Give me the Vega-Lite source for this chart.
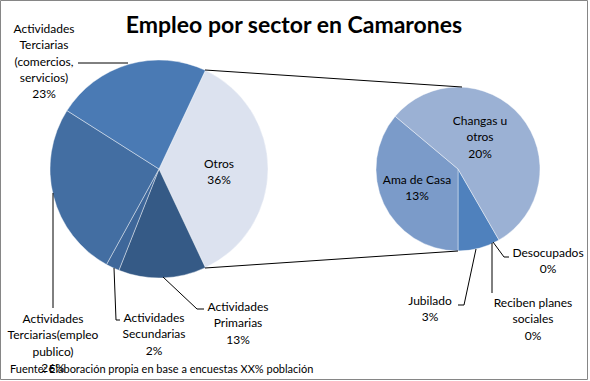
{
  "$schema": "https://vega.github.io/schema/vega-lite/v6.json",
  "width": 590,
  "height": 381,
  "padding": 0,
  "autosize": "none",
  "background": "#ffffff",
  "config": {"view": {"stroke": null}, "text": {"font": "Lato", "fontSize": 12, "color": "#000000", "lineBreak": "\n", "lineHeight": 16.3, "baseline": "middle", "align": "center"}, "rule": {"color": "#000000", "strokeWidth": 1}},
  "datasets": {
    "main": [
      {"sector": "Otros", "pct": 36, "label": "Otros\n36%"},
      {"sector": "Actividades Primarias", "pct": 13, "label": "Actividades\nPrimarias\n13%"},
      {"sector": "Actividades Secundarias", "pct": 2, "label": "Actividades\nSecundarias\n2%"},
      {"sector": "Actividades Terciarias (empleo publico)", "pct": 26, "label": "Actividades\nTerciarias(empleo\npublico)\n26%"},
      {"sector": "Actividades Terciarias (comercios, servicios)", "pct": 23, "label": "Actividades\nTerciarias\n(comercios,\nservicios)\n23%"}
    ],
    "otros": [
      {"sector": "Desocupados", "pct": 0, "label": "Desocupados\n0%"},
      {"sector": "Reciben planes sociales", "pct": 0, "label": "Reciben  planes\nsociales\n0%"},
      {"sector": "Jubilado", "pct": 3, "label": "Jubilado\n3%"},
      {"sector": "Ama de Casa", "pct": 13, "label": "Ama de Casa\n13%"},
      {"sector": "Changas u otros", "pct": 20, "label": "Changas u\notros\n20%"}
    ]
  },
  "resolve": {"scale": {"theta": "independent", "color": "independent"}},
  "layer": [
    {
      "data": {"name": "main"},
      "transform": [{"window": [{"op": "row_number", "as": "k"}]}],
      "mark": {"type": "arc", "outerRadius": 109, "stroke": "#ffffff", "strokeWidth": 0.6, "strokeOpacity": 0.7},
      "encoding": {
        "x": {"datum": 159, "type": "quantitative", "scale": {"domain": [0, 590], "nice": false}, "axis": null},
        "y": {"datum": 169, "type": "quantitative", "scale": {"domain": [381, 0], "nice": false}, "axis": null},
        "theta": {"field": "pct", "type": "quantitative", "stack": true, "scale": {"range": [0.4398, 6.7230]}},
        "order": {"field": "k", "type": "quantitative"},
        "color": {"field": "sector", "type": "nominal", "legend": null,
          "scale": {"domain": ["Otros", "Actividades Primarias", "Actividades Secundarias", "Actividades Terciarias (empleo publico)", "Actividades Terciarias (comercios, servicios)"],
                    "range": ["#dce2ef", "#355a86", "#3e679a", "#436ea2", "#4a7ab4"]}}
      }
    },
    {
      "data": {"name": "otros"},
      "transform": [{"window": [{"op": "row_number", "as": "k"}]}],
      "mark": {"type": "arc", "outerRadius": 82, "stroke": "#ffffff", "strokeWidth": 0.6, "strokeOpacity": 0.7},
      "encoding": {
        "x": {"datum": 458, "type": "quantitative", "scale": {"domain": [0, 590], "nice": false}, "axis": null},
        "y": {"datum": 169, "type": "quantitative", "scale": {"domain": [381, 0], "nice": false}, "axis": null},
        "theta": {"field": "pct", "type": "quantitative", "stack": true, "scale": {"range": [2.618, 8.9012]}},
        "order": {"field": "k", "type": "quantitative"},
        "color": {"field": "sector", "type": "nominal", "legend": null,
          "scale": {"domain": ["Desocupados", "Reciben planes sociales", "Jubilado", "Ama de Casa", "Changas u otros"],
                    "range": ["#4f81bd", "#4f81bd", "#4f81bd", "#7b9bc9", "#9bb1d4"]}}
      }
    },
    {"data": {"values": [{}]}, "mark": {"type": "rule"}, "encoding": {"x": {"datum": 205}, "y": {"datum": 70}, "x2": {"datum": 462}, "y2": {"datum": 87}}},
    {"data": {"values": [{}]}, "mark": {"type": "rule"}, "encoding": {"x": {"datum": 205}, "y": {"datum": 268}, "x2": {"datum": 458}, "y2": {"datum": 251}}},
    {"data": {"values": [{}]}, "mark": {"type": "rule"}, "encoding": {"x": {"datum": 78}, "y": {"datum": 63}, "x2": {"datum": 128}, "y2": {"datum": 63}}},
    {"data": {"values": [{}]}, "mark": {"type": "rule"}, "encoding": {"x": {"datum": 53}, "y": {"datum": 193}, "x2": {"datum": 53}, "y2": {"datum": 308}}},
    {"data": {"values": [{}]}, "mark": {"type": "rule"}, "encoding": {"x": {"datum": 114}, "y": {"datum": 268}, "x2": {"datum": 116}, "y2": {"datum": 320}}},
    {"data": {"values": [{}]}, "mark": {"type": "rule"}, "encoding": {"x": {"datum": 116}, "y": {"datum": 320}, "x2": {"datum": 120}, "y2": {"datum": 320}}},
    {"data": {"values": [{}]}, "mark": {"type": "rule"}, "encoding": {"x": {"datum": 163}, "y": {"datum": 277}, "x2": {"datum": 197}, "y2": {"datum": 309}}},
    {"data": {"values": [{}]}, "mark": {"type": "rule"}, "encoding": {"x": {"datum": 197}, "y": {"datum": 309}, "x2": {"datum": 204}, "y2": {"datum": 309}}},
    {"data": {"values": [{}]}, "mark": {"type": "rule"}, "encoding": {"x": {"datum": 493}, "y": {"datum": 242}, "x2": {"datum": 504}, "y2": {"datum": 257}}},
    {"data": {"values": [{}]}, "mark": {"type": "rule"}, "encoding": {"x": {"datum": 504}, "y": {"datum": 257}, "x2": {"datum": 509}, "y2": {"datum": 257}}},
    {"data": {"values": [{}]}, "mark": {"type": "rule"}, "encoding": {"x": {"datum": 476}, "y": {"datum": 249}, "x2": {"datum": 464}, "y2": {"datum": 305}}},
    {"data": {"values": [{}]}, "mark": {"type": "rule"}, "encoding": {"x": {"datum": 464}, "y": {"datum": 305}, "x2": {"datum": 458}, "y2": {"datum": 305}}},
    {"data": {"values": [{}]}, "mark": {"type": "rule"}, "encoding": {"x": {"datum": 492}, "y": {"datum": 243}, "x2": {"datum": 492}, "y2": {"datum": 293}}},
    {"data": {"name": "main"}, "transform": [{"filter": "datum.sector === 'Otros'"}], "mark": {"type": "text"}, "encoding": {"x": {"datum": 219}, "y": {"datum": 164}, "text": {"field": "label"}}},
    {"data": {"name": "main"}, "transform": [{"filter": "datum.sector === 'Actividades Primarias'"}], "mark": {"type": "text"}, "encoding": {"x": {"datum": 238}, "y": {"datum": 307}, "text": {"field": "label"}}},
    {"data": {"name": "main"}, "transform": [{"filter": "datum.sector === 'Actividades Secundarias'"}], "mark": {"type": "text"}, "encoding": {"x": {"datum": 154}, "y": {"datum": 318}, "text": {"field": "label"}}},
    {"data": {"name": "main"}, "transform": [{"filter": "datum.sector === 'Actividades Terciarias (empleo publico)'"}], "mark": {"type": "text"}, "encoding": {"x": {"datum": 53}, "y": {"datum": 319}, "text": {"field": "label"}}},
    {"data": {"name": "main"}, "transform": [{"filter": "datum.sector === 'Actividades Terciarias (comercios, servicios)'"}], "mark": {"type": "text"}, "encoding": {"x": {"datum": 44}, "y": {"datum": 29}, "text": {"field": "label"}}},
    {"data": {"name": "otros"}, "transform": [{"filter": "datum.sector === 'Changas u otros'"}], "mark": {"type": "text"}, "encoding": {"x": {"datum": 480}, "y": {"datum": 121}, "text": {"field": "label"}}},
    {"data": {"name": "otros"}, "transform": [{"filter": "datum.sector === 'Ama de Casa'"}], "mark": {"type": "text"}, "encoding": {"x": {"datum": 417}, "y": {"datum": 180}, "text": {"field": "label"}}},
    {"data": {"name": "otros"}, "transform": [{"filter": "datum.sector === 'Desocupados'"}], "mark": {"type": "text"}, "encoding": {"x": {"datum": 548}, "y": {"datum": 253}, "text": {"field": "label"}}},
    {"data": {"name": "otros"}, "transform": [{"filter": "datum.sector === 'Jubilado'"}], "mark": {"type": "text"}, "encoding": {"x": {"datum": 430}, "y": {"datum": 301}, "text": {"field": "label"}}},
    {"data": {"name": "otros"}, "transform": [{"filter": "datum.sector === 'Reciben planes sociales'"}], "mark": {"type": "text"}, "encoding": {"x": {"datum": 533}, "y": {"datum": 303}, "text": {"field": "label"}}},
    {"data": {"values": [{}]}, "mark": {"type": "text", "font": "Lato", "fontSize": 23, "fontWeight": "bold", "baseline": "alphabetic"}, "encoding": {"x": {"datum": 294}, "y": {"datum": 33}, "text": {"value": "Empleo por sector en Camarones"}}},
    {"data": {"values": [{}]}, "mark": {"type": "text", "fontSize": 11, "align": "left"}, "encoding": {"x": {"datum": 10}, "y": {"datum": 370}, "text": {"value": "Fuente: Elaboración propia en base a encuestas XX% población"}}},
    {"data": {"values": [{}]}, "mark": {"type": "rect", "fill": null, "stroke": "#868686", "strokeWidth": 1}, "encoding": {"x": {"datum": 0.5}, "x2": {"datum": 587.5}, "y": {"datum": 0.5}, "y2": {"datum": 379.5}}}
  ]
}
